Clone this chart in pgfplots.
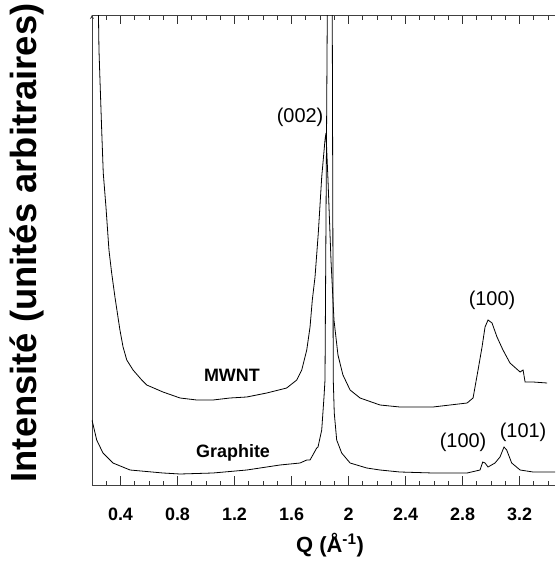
\documentclass[border=0pt]{standalone}
\usepackage{fontspec}
\setmainfont{Liberation Sans}
\usepackage{pgfplots}
\pgfplotsset{compat=1.18}
\begin{document}
\begin{tikzpicture}
\begin{axis}[
  scale only axis, width=463bp, height=470bp,
  xmin=0.2, xmax=3.449, ymin=0, ymax=470,
  axis x line=box, axis y line=left,
  axis line style={black!75, line width=0.8bp},
  xtick={0.4,0.8,1.2,1.6,2,2.4,2.8,3.2},
  minor xtick={0.2,0.3,0.5,0.6,0.7,0.9,1.0,1.1,1.3,1.4,1.5,1.7,1.8,1.9,2.1,2.2,2.3,2.5,2.6,2.7,2.9,3.0,3.1,3.3,3.4},
  ytick=\empty,
  tick align=inside,
  xtick pos=both,
  major tick length=9bp, minor tick length=4.5bp,
  every tick/.style={black!80, line width=0.8bp},
  /pgf/number format/assume math mode=true,
  xticklabel style={font=\bfseries\fontsize{18}{19}\selectfont, yshift=-19bp},
  xlabel style={at={(axis description cs:0.514,0)}, anchor=center, yshift=-60bp},
  ylabel style={at={(axis description cs:-0.14,0.515)}, rotate=0, anchor=center},
  xlabel={\bfseries\fontsize{22}{24}\selectfont Q (Å\textsuperscript{-1})},
  ylabel={\bfseries\fontsize{36.5}{38}\selectfont Intensité (unités arbitraires)},
  clip=true,
]
% MWNT
\addplot[black, line width=0.8bp] coordinates {
(0.240,520) (0.249,435) (0.256,405) (0.268,355) (0.279,312) (0.298,278) (0.319,235)
(0.338,212) (0.361,188) (0.396,155) (0.418,138) (0.444,125) (0.488,115) (0.549,105)
(0.584,100) (0.698,93) (0.818,87) (0.935,85) (1.049,85) (1.168,87) (1.286,88)
(1.426,92) (1.566,97) (1.637,105) (1.672,115) (1.707,135) (1.730,158) (1.746,185)
(1.765,208) (1.788,252) (1.812,308) (1.835,345) (1.842,352) (1.856,305) (1.877,225)
(1.898,165) (1.926,130) (1.961,110) (2.011,95) (2.081,87) (2.221,80) (2.361,78)
(2.593,78) (2.832,82) (2.874,87) (2.909,115) (2.937,138) (2.958,158) (2.979,165)
(3.007,162) (3.042,148) (3.084,135) (3.133,122) (3.204,113) (3.225,115) (3.239,103)
(3.295,103) (3.393,102)
};
% Graphite
\addplot[black, line width=0.8bp] coordinates {
(0.200,65) (0.233,45) (0.277,32) (0.347,22) (0.467,15) (0.698,12) (0.818,11)
(1.049,12) (1.286,15) (1.519,20) (1.660,22) (1.707,25) (1.730,25) (1.777,37)
(1.786,38) (1.812,55) (1.828,88) (1.835,105) (1.851,470) (1.868,800) (1.886,470)
(1.893,105) (1.900,72) (1.917,45) (1.952,32) (2.011,22) (2.128,17) (2.221,15)
(2.361,13) (2.593,12) (2.832,12) (2.923,15) (2.942,23) (2.958,22) (2.979,18)
(3.028,22) (3.063,28) (3.091,38) (3.110,35) (3.145,22) (3.204,15) (3.295,13)
(3.449,13)
};
\node[font=\fontsize{20}{21}\selectfont] at (axis cs:1.66,368) {(002)};
\node[font=\fontsize{20}{21}\selectfont] at (axis cs:3.007,185) {(100)};
\node[font=\fontsize{20}{21}\selectfont] at (axis cs:2.804,43) {(100)};
\node[font=\fontsize{20}{21}\selectfont] at (axis cs:3.225,53) {(101)};
\node[font=\bfseries\fontsize{18}{19}\selectfont] at (axis cs:1.182,110) {MWNT};
\node[font=\bfseries\fontsize{18}{19}\selectfont] at (axis cs:1.19,32) {Graphite};
\end{axis}
\path (0,0) ++(-92bp,-87bp) rectangle (463bp,485bp);
\end{tikzpicture}
\end{document}
